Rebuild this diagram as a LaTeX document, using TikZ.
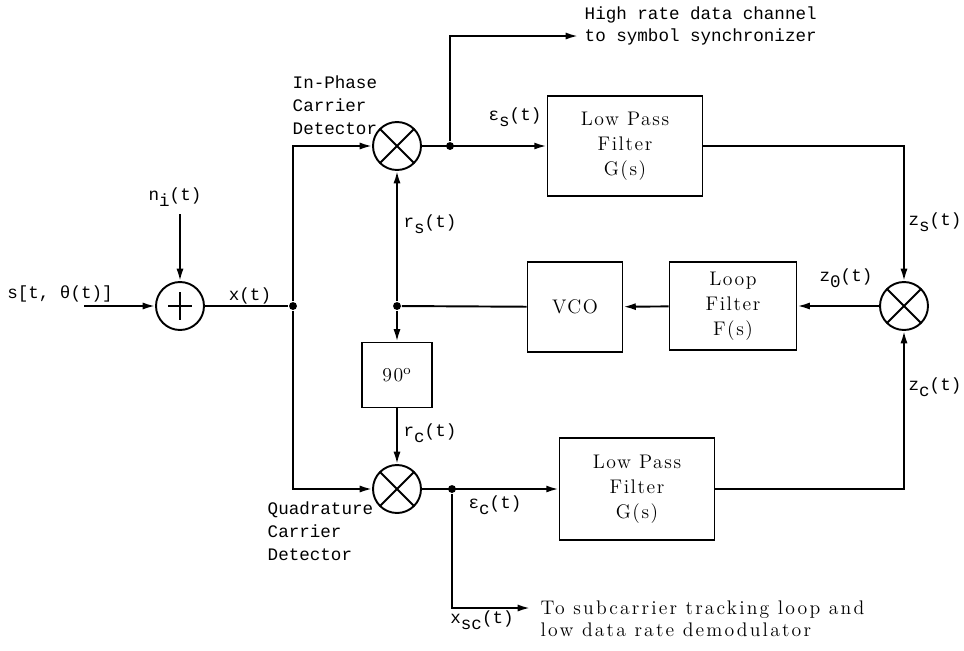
\documentclass[tikz,border=0pt]{standalone}
\usepackage{fontspec}
\setmonofont{Liberation Mono}
\newfontfamily\boxrm[LetterSpace=8]{Latin Modern Roman}
\newfontfamily\noterm[LetterSpace=11]{Latin Modern Roman}
\usetikzlibrary{arrows.meta,positioning}
\newcommand{\lsub}[1]{\raisebox{-0.6ex}{#1}}

\begin{document}
\begin{tikzpicture}[
    x=0.02cm, y=-0.02cm,
    line width=1.1pt,
    blk/.style={draw, align=center, font=\boxrm\fontsize{11.2}{14.2}\selectfont, inner sep=2pt},
    mix/.style={draw, circle, minimum size=0.96cm, inner sep=0pt,
        path picture={\draw (path picture bounding box.north west) -- (path picture bounding box.south east)
            (path picture bounding box.north east) -- (path picture bounding box.south west);}},
    sumj/.style={draw, circle, minimum size=0.96cm, inner sep=0pt,
        path picture={\draw (path picture bounding box.center) ++(0,-14) -- ++(0,28)
            (path picture bounding box.center) ++(-12,0) -- ++(24,0);}},
    dot/.style={circle, fill, inner sep=0pt, minimum size=4.5pt},
    lbl/.style={font=\ttfamily\fontsize{10}{13}\selectfont, align=left, inner sep=1pt},
    >={Latex[length=7pt,width=4pt]}
]
\useasboundingbox (0,0) rectangle (964,650);
% junctions and blocks
\node[sumj] (sum) at (180,306) {};
\node[mix] (mixI) at (397,146) {};
\node[mix] (mixQ) at (397,489) {};
\node[mix] (mixR) at (904,306) {};
\node[blk, minimum width=3.1cm, minimum height=2cm] (lpfI) at (625,146) {Low Pass\\Filter\\G(s)};
\node[blk, minimum width=3.1cm, minimum height=2.04cm] (lpfQ) at (637,489) {Low Pass\\Filter\\G(s)};
\node[blk, minimum width=2.54cm, minimum height=1.76cm] (loop) at (733,306) {Loop\\Filter\\F(s)};
\node[blk, minimum width=1.9cm, minimum height=1.8cm] (vco) at (575,307) {VCO};
\node[blk, minimum width=1.4cm, minimum height=1.3cm] (ninety) at (397,375) {90\textsuperscript{o}};
\node[dot] (split) at (293,306) {};
\node[dot] (jI) at (450,146) {};
\node[dot] (jV) at (397,306) {};
\node[dot] (jQ) at (452,489) {};
\coordinate (sin) at (84,306);
\coordinate (nitop) at (180,214);
\coordinate (hiend) at (578,36);
\coordinate (loend) at (530,608);
% signal labels
\node[lbl] (sinlbl) at (60,294) {s[t, θ(t)]};
\node[lbl] (nilbl) at (175,197) {n\lsub{i}(t)};
\node[lbl] (xlbl) at (250,296) {x(t)};
\node[lbl] (eslbl) at (515,117) {ε\lsub{s}(t)};
\node[lbl] (rslbl) at (430,224) {r\lsub{s}(t)};
\node[lbl] (zslbl) at (935,222) {z\lsub{s}(t)};
\node[lbl] (z0lbl) at (846,278) {z\lsub{0}(t)};
\node[lbl] (zclbl) at (935,387) {z\lsub{c}(t)};
\node[lbl] (rclbl) at (430,433) {r\lsub{c}(t)};
\node[lbl] (eclbl) at (495,505) {ε\lsub{c}(t)};
\node[lbl] (xsclbl) at (482,620) {x\lsub{sc}(t)};
\node[lbl, anchor=west] (inph) at (290,105) {In-Phase\\Carrier\\Detector};
\node[lbl, anchor=west] (quad) at (265,531) {Quadrature\\Carrier\\Detector};
\node[lbl, anchor=west] (hitxt) at (582,26) {High rate data channel\\to symbol synchronizer};
\node[anchor=west, align=left, inner sep=1pt, font=\noterm\fontsize{11.2}{12.5}\selectfont] (lotxt) at (538,619) {To subcarrier tracking loop and\\low data rate demodulator};
% connectors
\draw[->] (sin) -- (sum);
\draw[->] (nitop) -- (sum);
\draw (sum) -- (split);
\draw[->] (split) |- (mixI);
\draw[->] (split) |- (mixQ);
\draw[->] (mixI) -- (lpfI);
\draw[->] (jI) |- (hiend);
\draw[->] (lpfI) -| (mixR);
\draw[->] (lpfQ) -| (mixR);
\draw[->] (mixR) -- (loop);
\draw[->] (loop) -- (vco);
\draw (vco) -- (jV);
\draw[->] (jV) -- (mixI);
\draw[->] (jV) -- (ninety);
\draw[->] (ninety) -- (mixQ);
\draw[->] (mixQ) -- (lpfQ);
\draw[->] (jQ) |- (loend);
\end{tikzpicture}
\end{document}
